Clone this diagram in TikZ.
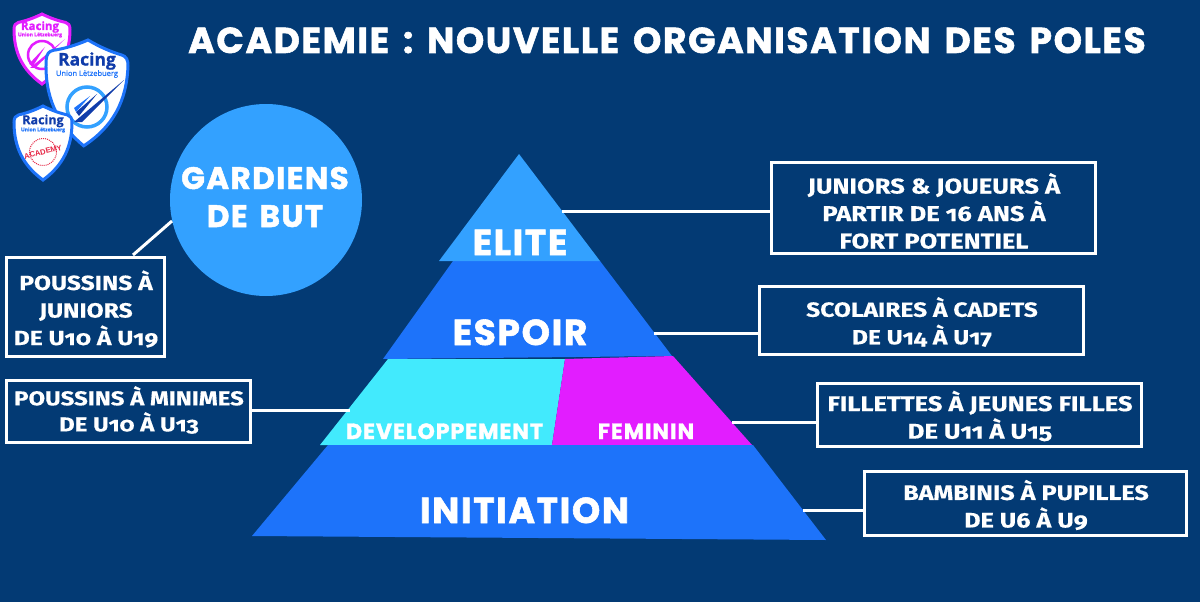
\documentclass[tikz,border=0pt]{standalone}
\usepackage{fontspec}
\setmainfont{Liberation Sans}
\newfontfamily\labelfont[Numbers=OldStyle,FakeStretch=1.2,FakeBold=0.4]{Fira Sans}
\newfontfamily\roughfont[LetterSpace=4.6,FakeBold=1.6,WordSpace=1.5]{Poppins}
\newfontfamily\shieldfont[FakeBold=0.8]{Open Sans}
\newcommand{\boxwidth}{324pt}
\definecolor{myNavy}{RGB}{3,58,116}
\definecolor{myBlue}{RGB}{29,115,250}
\definecolor{mySky}{RGB}{51,161,255}
\definecolor{myCyan}{RGB}{66,234,253}
\definecolor{myPink}{RGB}{226,29,255}
\definecolor{myRed}{RGB}{230,40,70}
\definecolor{myDeep}{RGB}{16,60,170}
\usetikzlibrary{calc,shapes.geometric}
\tikzset{
  x=1pt,y=-1pt,
  infobox/.style={draw=white,line width=3pt,shape=rectangle,minimum width=\boxwidth,inner sep=0},
  infotext/.style={text=white,align=center,inner sep=0,font=\labelfont\bfseries\fontsize{20.5}{27.5}\selectfont},
  line/.style={draw=white,line width=3pt},
  level/.style={text=white,anchor=base,inner sep=0},
  title/.style={level,font=\roughfont\bfseries\fontsize{36}{36}\selectfont},
  big/.style={level,font=\roughfont\bfseries\fontsize{36}{36}\selectfont},
  mid/.style={level,font=\roughfont\bfseries\fontsize{31}{31}\selectfont},
  small/.style={level,font=\roughfont\bfseries\fontsize{22}{22}\selectfont},
  shield/.pic={
    \path [pic actions,line width=3pt] (0,0) .. controls (-.15,.06) and (-.3,.1) .. (-.42,.12)
      .. controls (-.47,.13) and (-.5,.16) .. (-.5,.22)
      .. controls (-.5,.55) and (-.35,.8) .. (0,1)
      .. controls (.35,.8) and (.5,.55) .. (.5,.22)
      .. controls (.5,.16) and (.47,.13) .. (.42,.12)
      .. controls (.3,.1) and (.15,.06) .. (0,0) -- cycle;
  },
}

\begin{document}
\begin{tikzpicture}
  \useasboundingbox [fill=myNavy] (0,0) rectangle (1200,602);

  % pyramid
  \fill [myBlue] (453,261) -- (600,261) -- (672,356) -- (383,359) -- cycle;
  \fill [myCyan] (388,359) -- (565,359) -- (552,445) -- (320,445) -- cycle;
  \fill [myPink] (565,359) -- (673,356) -- (752,445) -- (552,445) -- cycle;
  \fill [myBlue] (328,445) -- (753,445) -- (826,540) -- (252,536) -- cycle;
  \fill [mySky] (519,154) -- (600,261) -- (439,261) -- cycle;
  \node (gardiens) [circle,fill=mySky,minimum size=192pt,inner sep=0] at (266,200) {};

  \node (titre) [title] at (667,53) {ACADEMIE : NOUVELLE ORGANISATION DES POLES};
  \node (elite) [big] at (520,255) {ELITE};
  \node (espoir) [big] at (520,345) {ESPOIR};
  \node (initiation) [big] at (524.5,523) {INITIATION};
  \node (developpement) [small] at (444.5,439) {DEVELOPPEMENT};
  \node (feminin) [small] at (646,439) {FEMININ};
  \node (gardienstxt) [mid] at (265,189) {GARDIENS};
  \node (butxt) [mid] at (265,227) {DE BUT};

  % boxes
  \node (junbox) [infobox,minimum width=158pt,minimum height=99pt] at (85.5,307) {};
  \node (minbox) [infobox,minimum width=244pt,minimum height=62pt] at (128.5,411.5) {};
  \node (elitebox) [infobox,minimum height=91pt] at (933.5,208) {};
  \node (espbox) [infobox,minimum height=68pt] at (921.5,320.5) {};
  \node (fembox) [infobox,minimum height=63pt] at (979.5,415) {};
  \node (inibox) [infobox,minimum width=322pt,minimum height=64pt] at (1025.5,503.5) {};

  \node (juntxt) [infotext] at (86,309) {POUSSINS À\\JUNIORS\\DE U10 À U19};
  \node (mintxt) [infotext,font=\labelfont\bfseries\fontsize{20}{26}\selectfont] at (129,410) {POUSSINS À MINIMES\\DE U10 À U13};
  \node (elitetxt) [infotext,font=\labelfont\bfseries\fontsize{21.3}{27.5}\selectfont] at (934,211) {JUNIORS \& JOUEURS À\\PARTIR DE 16 ANS À\\FORT POTENTIEL};
  \node (esptxt) [infotext] at (922,322) {SCOLAIRES À CADETS\\DE U14 À U17};
  \node (femtxt) [infotext,font=\labelfont\bfseries\fontsize{21.3}{27.5}\selectfont] at (980,416) {FILLETTES À JEUNES FILLES\\DE U11 À U15};
  \node (initxt) [infotext,font=\labelfont\bfseries\fontsize{21}{27.5}\selectfont] at (1026,505) {BAMBINIS À PUPILLES\\DE U6 À U9};

  % connectors
  \coordinate (garfoot) at (172,221);
  \coordinate (junfoot) at (133,255);
  \coordinate (minfoot) at (350,410);
  \coordinate (elitefoot) at (562,211);
  \coordinate (espfoot) at (654,333);
  \coordinate (femfoot) at (732,422);
  \coordinate (inifoot) at (803,510);
  \path [line] (garfoot) -- (junfoot);
  \path [line] (minfoot) -- (minfoot -| minbox.east);
  \path [line] (elitefoot) -- (elitefoot -| elitebox.west);
  \path [line] (espfoot) -- (espfoot -| espbox.west);
  \path [line] (femfoot) -- (femfoot -| fembox.west);
  \path [line] (inifoot) -- (inifoot -| inibox.west);

  % shields
  \pic [draw=myPink,fill=white,xscale=56,yscale=70] at (42,14) {shield};
  \draw [myPink,line width=2.5pt] (42,55) circle (14);
  \fill [myPink] (30,68) -- (65,39) -- (35,68) -- cycle;
  \fill [myPink] (29,64) -- (45,47) -- (33,66) -- cycle;
  \node (racingA) [text=myPink,inner sep=0,font=\shieldfont\bfseries\fontsize{11.5}{12}\selectfont] at (40,27) {Racing};
  \node (unionA) [text=myPink,inner sep=0,font=\shieldfont\bfseries\fontsize{5}{5}\selectfont] at (40,35) {Union Lëtzebuerg};

  \pic [draw=myBlue,fill=white,xscale=82,yscale=106,rotate=-3] at (88,40) {shield};
  \draw [mySky,line width=3.5pt] (87,107) circle (20);
  \fill [myDeep] (74,122) -- (124,80) -- (82,122) -- cycle;
  \fill [myDeep] (76,112) -- (97,94) -- (79,116) -- cycle;
  \fill [myBlue] (74,108) -- (90,96) -- (76,112) -- cycle;
  \node (racingB) [text=myDeep,inner sep=0,font=\shieldfont\bfseries\fontsize{17.5}{19}\selectfont] at (87,61) {Racing};
  \node (unionB) [text=myBlue,inner sep=0,font=\shieldfont\fontsize{7.5}{8}\selectfont] at (87,74) {Union Lëtzebuerg};

  \pic [draw=myBlue,fill=white,xscale=58,yscale=74] at (43,106) {shield};
  \node (racingC) [text=myDeep,inner sep=0,font=\shieldfont\bfseries\fontsize{12.5}{13}\selectfont] at (43,121) {Racing};
  \node (unionC) [text=myBlue,inner sep=0,font=\shieldfont\bfseries\fontsize{5}{5.5}\selectfont] at (43,130) {Union Lëtzebuerg};
  \node (stamp) [circle,draw=myRed,densely dotted,line width=1pt,minimum size=27pt,inner sep=0] at (43,152) {};
  \node (academy) [text=myRed,inner sep=.5pt,rotate=14,font=\bfseries\fontsize{7.6}{7.6}\selectfont] at (43,152) {ACADEMY};
\end{tikzpicture}
\end{document}
